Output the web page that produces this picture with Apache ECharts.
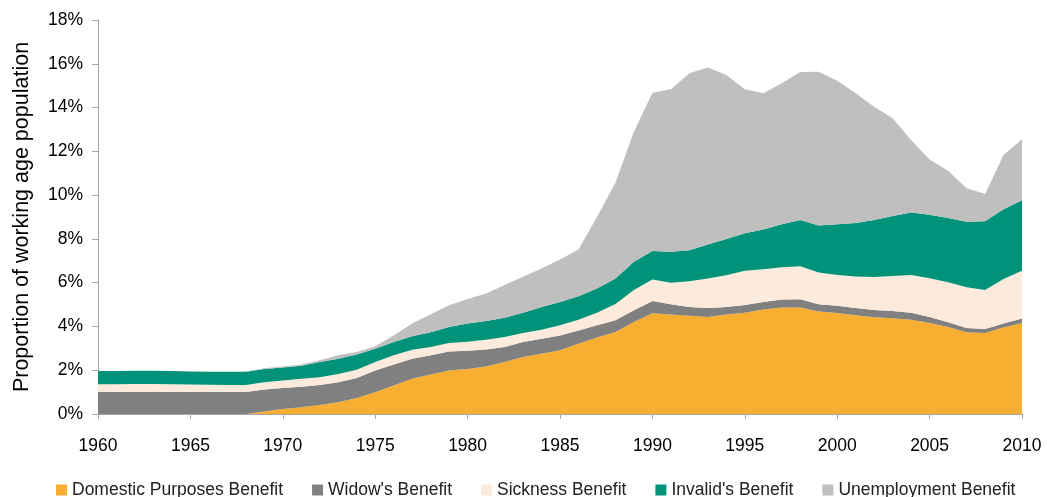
<!DOCTYPE html>
<html>
<head>
<meta charset="utf-8">
<title>Benefit recipients</title>
<script src="https://cdn.jsdelivr.net/npm/echarts@6/dist/echarts.min.js"></script>
<style>
	html,body{margin:0;padding:0;background:#fff;}
	#main{width:1047px;height:497px;}
</style>
</head>
<body>
<div id="main"></div>
<script>
// years 1960 - 2010
var years = [];
for (var y = 1960; y <= 2010; y++) years.push(String(y));

// % of working age population (stacked, bottom to top)
var dpb = [0,0,0,0,0,0,0,0,0,0.11,0.23,0.31,0.41,0.54,0.73,0.99,1.30,1.61,1.80,1.99,
	2.06,2.17,2.37,2.60,2.75,2.91,3.21,3.49,3.75,4.20,4.60,4.55,4.49,4.43,4.54,4.63,4.77,4.86,4.86,4.68,
	4.61,4.51,4.42,4.38,4.31,4.16,3.97,3.73,3.70,3.95,4.16];
var widow = [1.00,1.00,1.01,1.02,1.01,1.00,1.00,1.00,1.00,1.01,0.96,0.94,0.92,0.91,0.92,1.00,0.96,0.91,0.88,0.87,
	0.83,0.78,0.69,0.69,0.69,0.68,0.61,0.56,0.53,0.54,0.56,0.46,0.40,0.41,0.35,0.35,0.35,0.37,0.38,0.33,
	0.34,0.33,0.33,0.32,0.32,0.27,0.22,0.20,0.18,0.18,0.20];
var sickness = [0.36,0.36,0.36,0.35,0.35,0.35,0.34,0.33,0.33,0.33,0.34,0.36,0.35,0.38,0.37,0.38,0.42,0.42,0.38,0.38,
	0.41,0.44,0.46,0.41,0.41,0.46,0.49,0.57,0.74,0.92,0.98,0.99,1.17,1.35,1.45,1.56,1.49,1.47,1.51,1.45,
	1.40,1.44,1.51,1.61,1.72,1.77,1.83,1.86,1.79,2.04,2.18];
var invalid = [0.61,0.61,0.61,0.61,0.60,0.59,0.59,0.60,0.60,0.61,0.59,0.59,0.69,0.69,0.70,0.61,0.61,0.61,0.67,0.74,
	0.83,0.86,0.88,0.92,1.04,1.07,1.07,1.11,1.17,1.30,1.31,1.41,1.42,1.55,1.65,1.72,1.82,1.97,2.11,2.15,
	2.32,2.45,2.60,2.73,2.86,2.90,2.94,2.99,3.14,3.18,3.23];
var unemployment = [0,0,0,0,0,0,0,0,0.01,0.03,0.05,0.06,0.08,0.16,0.11,0.11,0.30,0.58,0.83,0.99,
	1.12,1.25,1.49,1.65,1.76,1.94,2.14,3.27,4.37,5.94,7.23,7.43,8.09,8.09,7.50,6.58,6.22,6.44,6.77,7.03,
	6.56,5.92,5.18,4.47,3.31,2.53,2.15,1.53,1.24,2.48,2.78];

var names = ['Domestic Purposes Benefit', "Widow's Benefit", 'Sickness Benefit', "Invalid's Benefit", 'Unemployment Benefit'];
var colors = ['#F8AE30', '#808080', '#FCEADC', '#00937A', '#BFBFBF'];
var datas = [dpb, widow, sickness, invalid, unemployment];

var font = 'Liberation Sans, Arial, sans-serif';
var axisGrey = '#A6A6A6';

var series = datas.map(function (d, i) {
	return {
		name: names[i],
		type: 'line',
		stack: 'total',
		data: d,
		showSymbol: false,
		lineStyle: { width: 0 },
		areaStyle: { color: colors[i], opacity: 1 },
		itemStyle: { color: colors[i] }
	};
});

var myChart = echarts.init(document.getElementById('main'));
myChart.setOption({
	animation: false,
	color: colors,
	grid: { left: 98, right: 25, top: 20, bottom: 83 },
	legend: {
		top: 476,
		left: 51,
		itemWidth: 11,
		itemHeight: 11,
		itemGap: 29,
		icon: 'rect',
		textStyle: { fontFamily: font, fontSize: 17.5, color: '#222' },
		data: names
	},
	xAxis: {
		type: 'category',
		boundaryGap: false,
		data: years,
		axisLine: { lineStyle: { color: axisGrey } },
		axisTick: { interval: 4, length: 5, lineStyle: { color: axisGrey } },
		axisLabel: { interval: 4, margin: 23, fontFamily: font, fontSize: 17.5, color: '#000' }
	},
	yAxis: {
		type: 'value',
		min: 0,
		max: 18,
		interval: 2,
		name: 'Proportion of working age population',
		nameLocation: 'middle',
		nameGap: 65,
		nameTextStyle: { fontFamily: font, fontSize: 21.5, color: '#000' },
		splitLine: { show: false },
		axisLine: { show: true, lineStyle: { color: axisGrey } },
		axisTick: { show: true, length: 6, lineStyle: { color: axisGrey } },
		axisLabel: { formatter: '{value}%', margin: 15, fontFamily: font, fontSize: 17.5, color: '#000' }
	},
	series: series
});
</script>
</body>
</html>
